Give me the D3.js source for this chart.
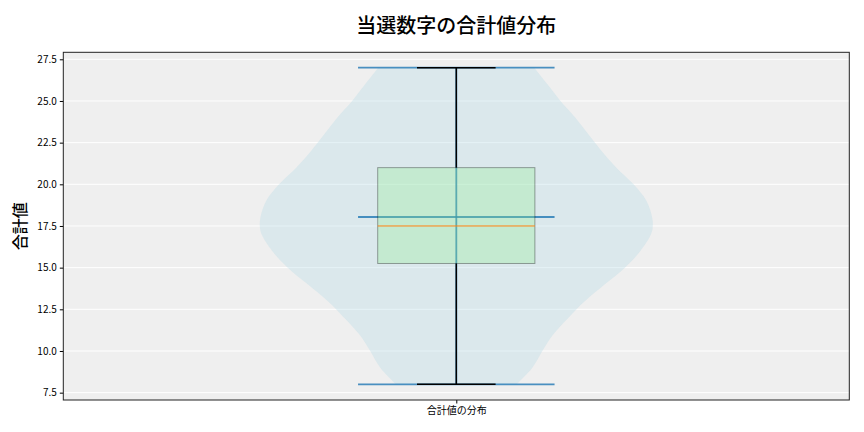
<!DOCTYPE html>
<html>
<head>
<meta charset="utf-8">
<script src="https://cdn.jsdelivr.net/npm/d3@7"></script>
<style>
  body { margin: 0; background: #fff; }
  text { font-family: "Noto Sans CJK JP", "Noto Sans", sans-serif; }
</style>
</head>
<body>
<div class="chart"></div>
<script>
// values
let titleText = "当選数字の合計値分布",
    yLabel = "合計値",
    categories = ["合計値の分布"],
    yTicks = [7.5, 10.0, 12.5, 15.0, 17.5, 20.0, 22.5, 25.0, 27.5];

// violin outline: value and relative density (1 = widest)
let violinValues = [27, 26, 25, 24, 23, 22, 21, 20, 19, 18, 17.5, 17, 16, 15, 14, 13, 12, 11, 10, 9, 8],
    violinDensity = [0.397, 0.464, 0.530, 0.606, 0.672, 0.739, 0.815, 0.902, 0.968, 0.997, 1.0, 0.991, 0.937, 0.858, 0.756, 0.655, 0.571, 0.494, 0.438, 0.387, 0.306];

let dataMin = 8, dataMax = 27, dataMean = 18.04,
    q1 = 15.25, median = 17.5, q3 = 21.0,
    whiskerLow = 8, whiskerHigh = 27;

let width = 864, height = 432,
    margin = {top: 52.3, right: 14.7, bottom: 32, left: 63.3},
    innerW = width - margin.left - margin.right,
    innerH = height - margin.top - margin.bottom;

let svg = d3.select(".chart").append("svg")
    .attr("width", width).attr("height", height);

let g = svg.append("g")
    .attr("transform", "translate(" + margin.left + "," + margin.top + ")");

let x = d3.scaleLinear().domain([0.5, 1.5]).range([0, innerW]),
    y = d3.scaleLinear().domain([7.06, 27.92]).range([innerH, 0]);

g.append("rect")
    .attr("width", innerW).attr("height", innerH)
    .attr("fill", "#efefef");

// grid
g.selectAll(".grid")
    .data(yTicks)
    .enter().append("line")
    .attr("x1", 0).attr("x2", innerW)
    .attr("y1", d => y(d)).attr("y2", d => y(d))
    .attr("stroke", "#fff").attr("stroke-width", 1);

// violin
let violinHalf = 0.25;
let area = d3.area()
    .curve(d3.curveCatmullRom)
    .y(function (d, i) { return y(violinValues[i]); })
    .x0(function (d) { return x(1 - violinHalf * d); })
    .x1(function (d) { return x(1 + violinHalf * d); });

g.append("path")
    .attr("d", area(violinDensity))
    .attr("fill", "#add8e6")
    .attr("fill-opacity", 0.3);

let blue = "#1f77b4";
g.append("line")
    .attr("x1", x(1)).attr("x2", x(1))
    .attr("y1", y(dataMin)).attr("y2", y(dataMax))
    .attr("stroke", blue).attr("stroke-opacity", 0.8).attr("stroke-width", 1.8);

[dataMin, dataMax, dataMean].forEach(function (v) {
    g.append("line")
        .attr("x1", x(1 - violinHalf / 2)).attr("x2", x(1 + violinHalf / 2))
        .attr("y1", y(v)).attr("y2", y(v))
        .attr("stroke", blue).attr("stroke-opacity", 0.8).attr("stroke-width", 1.8);
});

// box
let boxHalf = 0.1;
g.append("rect")
    .attr("x", x(1 - boxHalf)).attr("width", x(1 + boxHalf) - x(1 - boxHalf))
    .attr("y", y(q3)).attr("height", y(q1) - y(q3))
    .attr("fill", "#90ee90").attr("fill-opacity", 0.3)
    .attr("stroke", "#000").attr("stroke-opacity", 0.35).attr("stroke-width", 1);

[[q1, whiskerLow], [q3, whiskerHigh]].forEach(function (w) {
    g.append("line")
        .attr("x1", x(1)).attr("x2", x(1))
        .attr("y1", y(w[0])).attr("y2", y(w[1]))
        .attr("stroke", "#000").attr("stroke-width", 1.5);
    g.append("line")
        .attr("x1", x(1 - boxHalf / 2)).attr("x2", x(1 + boxHalf / 2))
        .attr("y1", y(w[1])).attr("y2", y(w[1]))
        .attr("stroke", "#000").attr("stroke-width", 1.5);
});

g.append("line")
    .attr("x1", x(1 - boxHalf)).attr("x2", x(1 + boxHalf))
    .attr("y1", y(median)).attr("y2", y(median))
    .attr("stroke", "#ff7f0e").attr("stroke-width", 1);

// axes
let yAxis = g.append("g")
    .call(d3.axisLeft(y).tickValues(yTicks).tickFormat(d3.format(".1f")).tickSize(3.5).tickPadding(3));
yAxis.select(".domain").remove();
yAxis.selectAll("text").style("font-size", "10px").attr("fill", "#000");

let xAxis = g.append("g")
    .attr("transform", "translate(0," + innerH + ")")
    .call(d3.axisBottom(x).tickValues([1]).tickFormat((d, i) => categories[i]).tickSize(3.5).tickPadding(3));
xAxis.select(".domain").remove();
xAxis.selectAll("text").style("font-size", "10px").attr("fill", "#000");

g.append("rect")
    .attr("width", innerW).attr("height", innerH)
    .attr("fill", "none").attr("stroke", "#222").attr("stroke-width", 1);

svg.append("text")
    .attr("x", margin.left + innerW / 2).attr("y", 33)
    .attr("text-anchor", "middle")
    .style("font-size", "20px").style("font-weight", "500")
    .text(titleText);

svg.append("text")
    .attr("transform", "translate(26," + (margin.top + innerH / 2) + ") rotate(-90)")
    .attr("text-anchor", "middle")
    .style("font-size", "16px").style("font-weight", "500")
    .text(yLabel);
</script>
</body>
</html>
